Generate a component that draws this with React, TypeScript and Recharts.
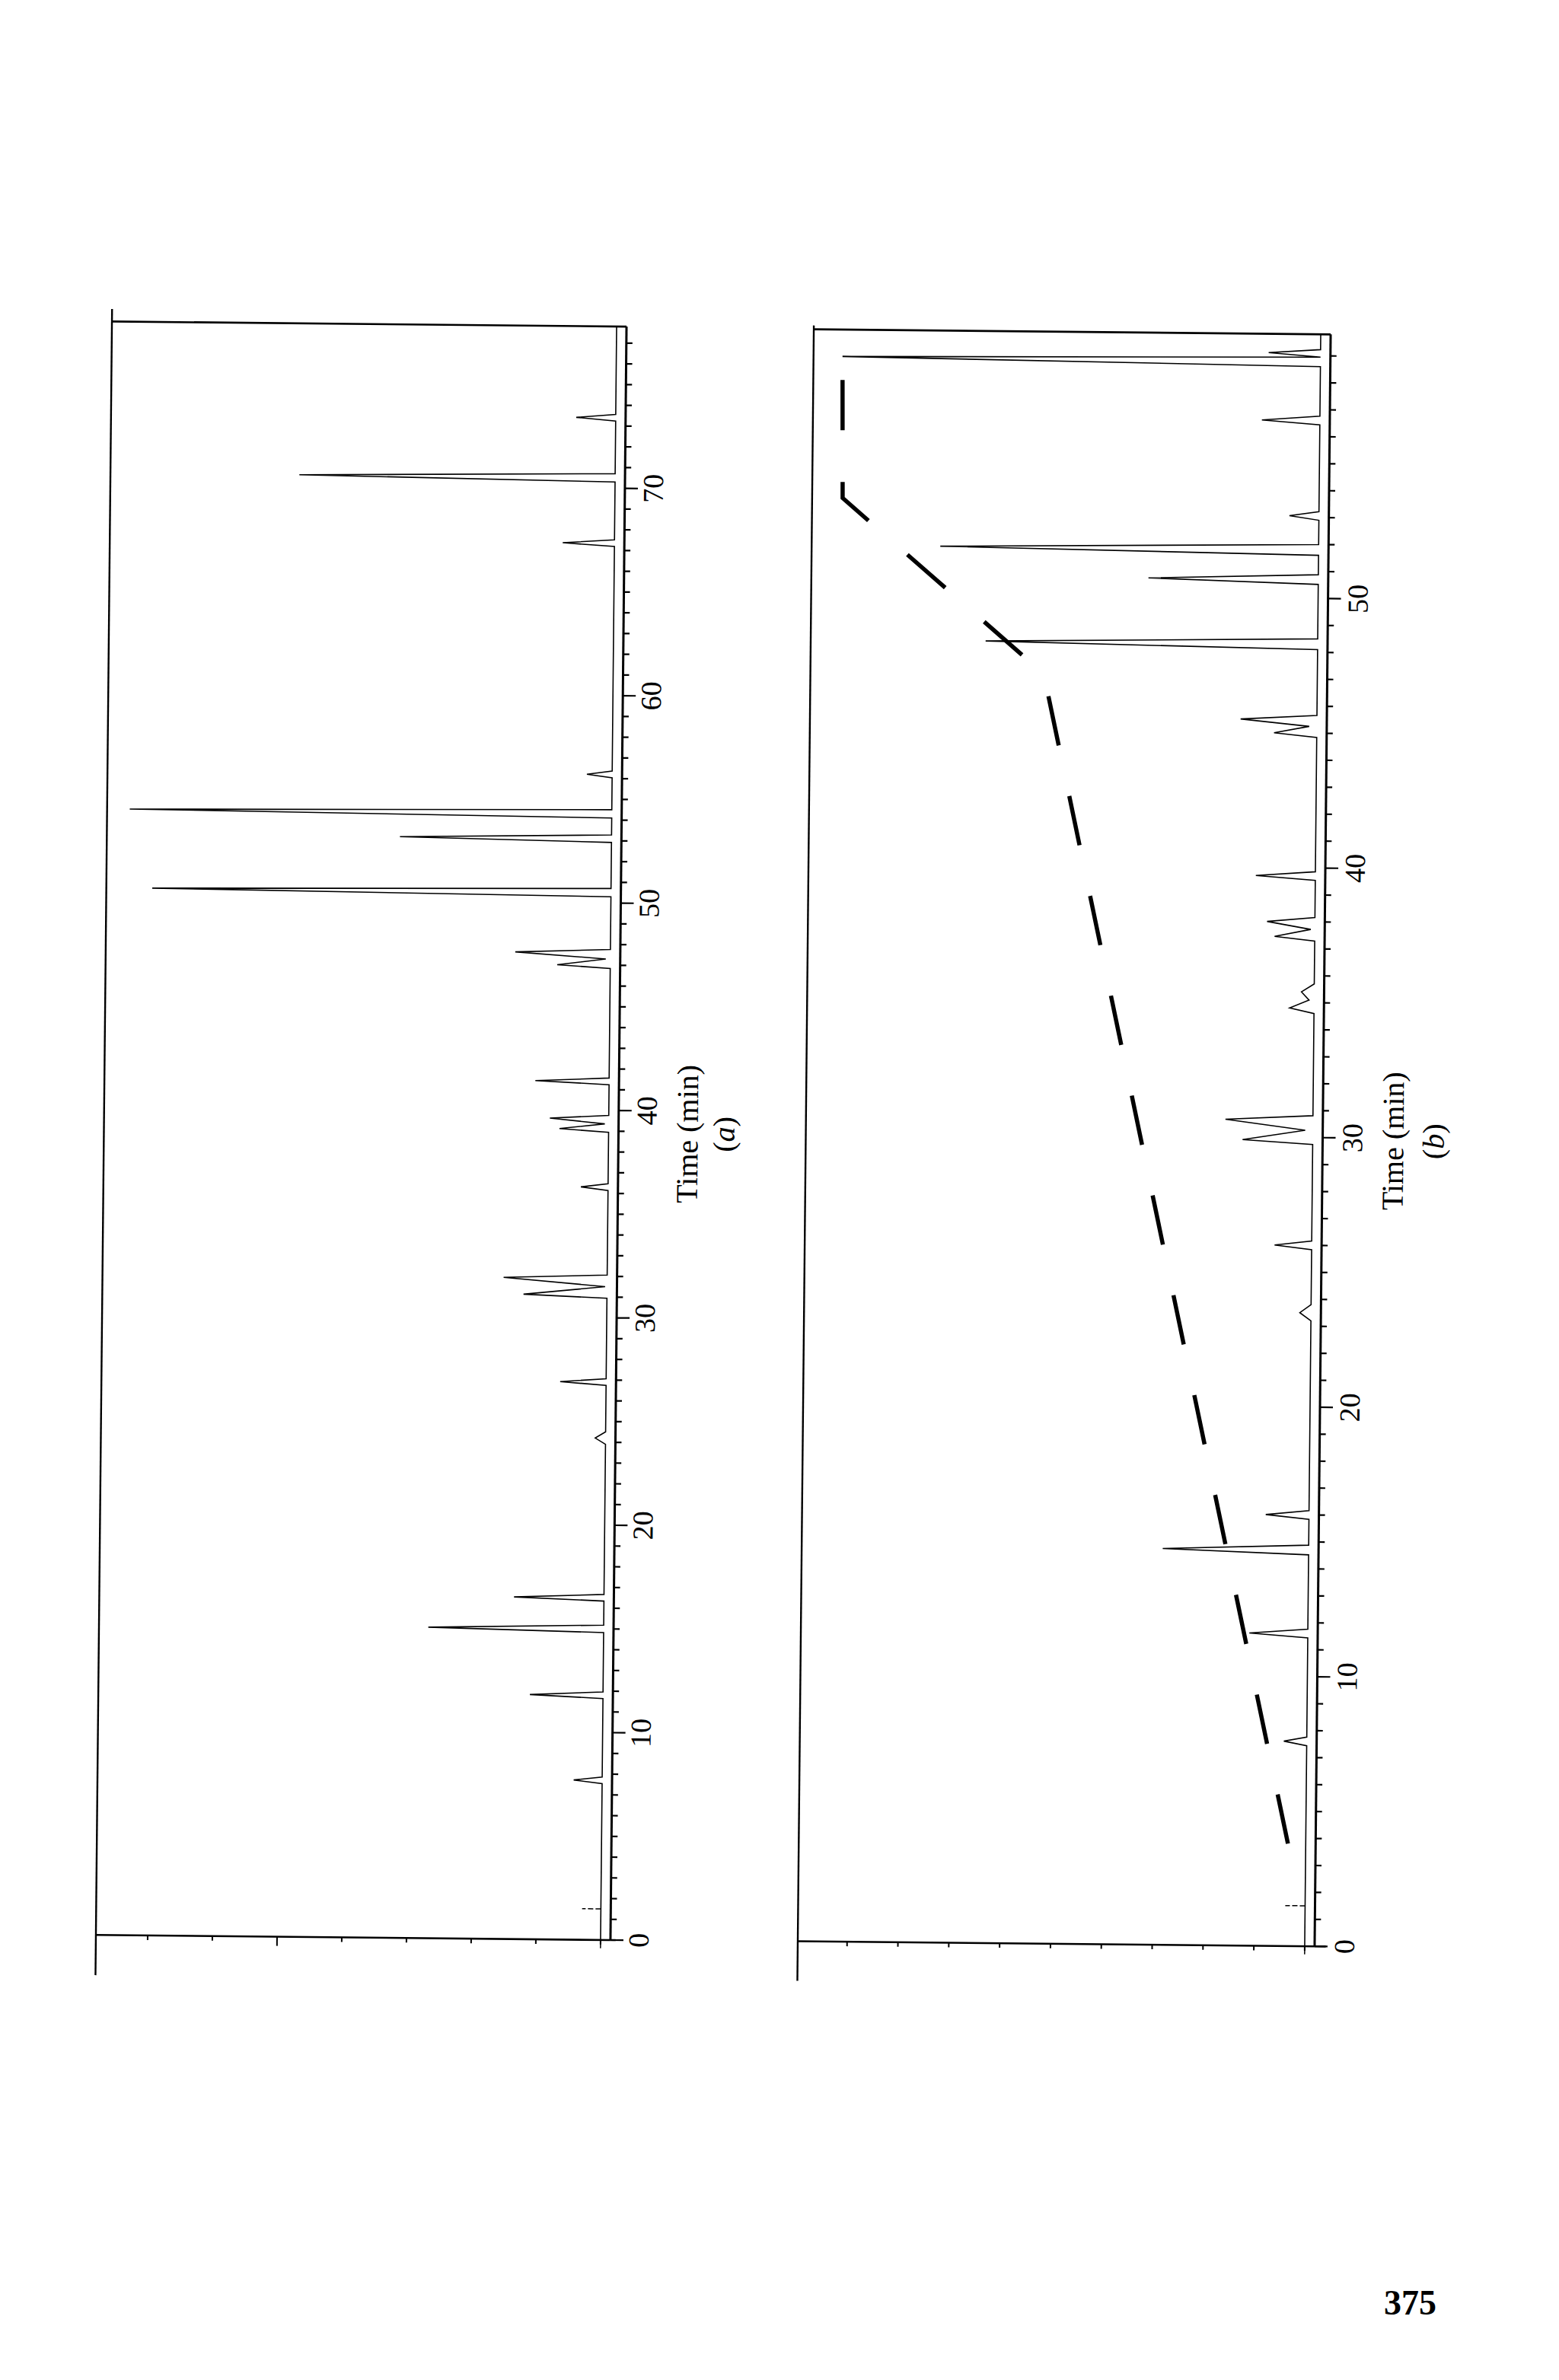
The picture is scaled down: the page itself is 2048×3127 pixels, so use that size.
import React from 'react';
import { LineChart, Line, XAxis, YAxis, ReferenceLine, Label } from 'recharts';

const FONT = '"Liberation Serif", "Times New Roman", serif';
const ROT = -89.43; // figure printed sideways, with a slight scan skew

// ---------------- panel (a) ----------------
const timeLabelsA = [0, 10, 20, 30, 40, 50, 60, 70];
const timeTicksA = Array.from({ length: 78 }, (_, i) => i);
const signalTicksA = [0, 10, 20, 30, 40, 50, 60, 70];
const signalLongA = [50];
const timeMaxA = 77.8;
const signalDomainA: [number, number] = [-1.53, 78];
const chromA: [number, number][] = [
  [0, 0],
  [7.54, 0], [7.7, 4.4], [7.86, 0],
  [11.64, 0], [11.8, 11.3], [11.96, 0],
  [14.82, 0], [15.0, 27.1], [15.18, 0],
  [16.34, 0], [16.5, 13.9], [16.66, 0],
  [23.9, 0], [24.2, 1.6], [24.5, 0],
  [26.74, 0], [26.9, 7.1], [27.06, 0],
  [30.94, 0], [31.1, 12.9], [31.5, 0.3], [31.9, 16.0], [32.06, 0],
  [36.14, 0], [36.3, 4.2], [36.46, 0],
  [38.94, 0], [39.1, 7.6], [39.35, 0.6], [39.6, 9.1], [39.76, 0],
  [41.24, 0], [41.4, 11.4], [41.56, 0],
  [46.84, 0], [47.0, 8.2], [47.3, 0.7], [47.6, 14.7], [47.76, 0],
  [50.3, 0], [50.5, 70.9], [50.7, 0],
  [52.92, 0], [53.1, 32.7], [53.28, 0],
  [54.1, 0], [54.3, 74.5], [54.5, 0],
  [56.04, 0], [56.2, 3.9], [56.36, 0],
  [67.19, 0], [67.35, 8.0], [67.51, 0],
  [70.3, 0], [70.5, 48.8], [70.7, 0],
  [73.24, 0], [73.4, 6.1], [73.56, 0],
  [77.8, 0],
];

// ---------------- panel (b) ----------------
const timeLabelsB = [0, 10, 20, 30, 40, 50];
const timeTicksB = Array.from({ length: 60 }, (_, i) => i);
const signalTicksB = [0, 10, 20, 30, 40, 50, 60, 70, 80, 90];
const signalLongB: number[] = [];
const timeMaxB = 59.8;
const signalDomainB: [number, number] = [-1.95, 99.7];
const chromB: [number, number][] = [
  [0, 0],
  [7.44, 0], [7.6, 4.5], [7.76, 0],
  [11.44, 0], [11.6, 11.5], [11.76, 0],
  [14.52, 0], [14.7, 28.7], [14.88, 0],
  [15.84, 0], [16.0, 8.5], [16.16, 0],
  [23.2, 0], [23.5, 2.2], [23.8, 0],
  [25.84, 0], [26.0, 7.3], [26.16, 0],
  [29.74, 0], [29.9, 13.8], [30.27, 1.5], [30.65, 17.2], [30.81, 0],
  [34.6, 0], [34.8, 4.8], [35.1, 1.0], [35.4, 2.5], [35.7, 0],
  [37.29, 0], [37.45, 7.9], [37.72, 0.8], [38.0, 9.4], [38.16, 0],
  [39.54, 0], [39.7, 11.7], [39.86, 0],
  [44.84, 0], [45.0, 8.4], [45.25, 1.5], [45.5, 15.0], [45.66, 0],
  [48.1, 0], [48.3, 65.3], [48.5, 0],
  [50.52, 0], [50.7, 33.4], [50.88, 0],
  [51.6, 0], [51.8, 74.4], [52.0, 0],
  [52.9, 0], [53.06, 5.8], [53.22, 0],
  [56.44, 0], [56.6, 11.4], [56.76, 0],
  [58.6, 0], [58.8, 94.0], [58.95, 0], [59.1, 10.2], [59.23, 0],
  [59.8, 0],
];
// gradient programme (dashed)
const gradientB: [number, number][] = [
  [3.8, 3.5], [47.1, 53.8], [53.55, 93.7], [58.85, 94.0],
];

const toPts = (arr: [number, number][]) => arr.map(([t, v]) => ({ t, v }));

type Cfg = {
  X0: number; Y0: number; W: number; H: number;
  plotLeft: number; plotWidth: number; plotTop: number; plotBottom: number;
  tMax: number; sDomain: [number, number];
  tTicks: number[]; tLabels: number[]; sTicks: number[]; sLong: number[];
  chrom: [number, number][]; gradient?: [number, number][];
  letter: string; frameFrom: number; frameTo: number;
  marker: number; markerLen: number; tail: number; overhang: number;
  tickFs: number; tickDy: number; titleDy: number; letterDy: number;
};

const YW = 40;

function Panel({ c }: { c: Cfg }) {
  const TimeTick = (p: any) => {
    const { x, y, payload } = p;
    const v = payload.value;
    const major = v % 10 === 0;
    return (
      <g>
        <line x1={x} y1={y} x2={x} y2={y + (major ? 17 : 8)} stroke="#000" strokeWidth={2.2} />
        {c.tLabels.includes(v) && (
          <text x={x} y={y + c.tickDy} textAnchor="middle" fontSize={c.tickFs} fontFamily={FONT} fill="#000">
            {v}
          </text>
        )}
      </g>
    );
  };
  const SigTick = (p: any) => {
    const { x, y, payload } = p;
    const long = c.sLong.includes(payload.value);
    return <line x1={x} y1={y} x2={x - (long ? 12 : 6)} y2={y} stroke="#000" strokeWidth={2} />;
  };
  const Title = (p: any) => {
    const vb = p.viewBox || {};
    const cx = vb.x + vb.width / 2;
    const y0 = vb.y;
    return (
      <g>
        <text x={cx} y={y0 + c.titleDy} textAnchor="middle" fontSize={40} fontFamily={FONT} fill="#000">
          Time (min)
        </text>
        <text x={cx} y={y0 + c.letterDy} textAnchor="middle" fontSize={40} fontFamily={FONT} fill="#000">
          (<tspan fontStyle="italic">{c.letter}</tspan>)
        </text>
      </g>
    );
  };
  const sMax = c.sDomain[1];
  const sMin = c.sDomain[0];
  return (
    <div
      style={{
        position: 'absolute', left: c.X0, top: c.Y0, width: c.W, height: c.H,
        transformOrigin: '0 0', transform: `rotate(${ROT}deg)`,
      }}
    >
      <LineChart
        width={c.W}
        height={c.H}
        margin={{ top: c.plotTop, left: c.plotLeft - YW, right: c.W - c.plotLeft - c.plotWidth, bottom: 0 }}
      >
        <XAxis
          type="number" dataKey="t" domain={[0, c.tMax]} allowDataOverflow
          ticks={c.tTicks} interval={0} tickSize={0} tickMargin={0} tickLine={false}
          tick={TimeTick} height={c.H - c.plotBottom}
          axisLine={{ stroke: '#000', strokeWidth: 3 }}
          label={<Label content={Title} />}
        />
        <YAxis
          type="number" dataKey="v" domain={c.sDomain} allowDataOverflow
          ticks={c.sTicks} interval={0} tickSize={0} tickMargin={0} tickLine={false}
          tick={SigTick} width={YW}
          axisLine={{ stroke: '#000', strokeWidth: 2.6 }}
        />
        <ReferenceLine x={c.tMax} stroke="#000" strokeWidth={2.6} ifOverflow="visible" />
        <ReferenceLine
          segment={[{ x: c.frameFrom, y: sMax }, { x: c.frameTo, y: sMax }]}
          stroke="#000" strokeWidth={2.4} ifOverflow="visible"
        />
        <ReferenceLine
          segment={[{ x: 0, y: sMin }, { x: 0, y: sMin - c.overhang }]}
          stroke="#000" strokeWidth={2.6} ifOverflow="visible"
        />
        <ReferenceLine
          segment={[{ x: c.tail, y: 0 }, { x: 0, y: 0 }]}
          stroke="#000" strokeWidth={1.5} ifOverflow="visible"
        />
        <ReferenceLine
          segment={[{ x: c.marker, y: 0 }, { x: c.marker, y: c.markerLen }]}
          stroke="#000" strokeWidth={1.5} strokeDasharray="7 3" ifOverflow="visible"
        />
        <Line
          data={toPts(c.chrom)} dataKey="v" type="linear" stroke="#000" strokeWidth={1.6}
          dot={false} activeDot={false} isAnimationActive={false}
        />
        {c.gradient && (
          <Line
            data={toPts(c.gradient)} dataKey="v" type="linear" stroke="#000" strokeWidth={5.5}
            strokeDasharray="66 68" strokeLinecap="butt" dot={false} activeDot={false}
            isAnimationActive={false}
          />
        )}
      </LineChart>
    </div>
  );
}

const cfgA: Cfg = {
  X0: 100, Y0: 2640, W: 2260, H: 900,
  plotLeft: 98, plotWidth: 2120, plotTop: 25, plotBottom: 701,
  tMax: timeMaxA, sDomain: signalDomainA,
  tTicks: timeTicksA, tLabels: timeLabelsA, sTicks: signalTicksA, sLong: signalLongA,
  chrom: chromA, letter: 'a', frameFrom: -1.94, frameTo: 78.4,
  marker: 1.5, markerLen: 2.9, tail: -0.4, overhang: 0.8,
  tickFs: 38, tickDy: 50, titleDy: 104, letterDy: 152,
};

const cfgB: Cfg = {
  X0: 1000, Y0: 2650, W: 2260, H: 950,
  plotLeft: 100, plotWidth: 2118, plotTop: 47, plotBottom: 726,
  tMax: timeMaxB, sDomain: signalDomainB,
  tTicks: timeTicksB, tLabels: timeLabelsB, sTicks: signalTicksB, sLong: signalLongB,
  chrom: chromB, gradient: gradientB, letter: 'b', frameFrom: -1.47, frameTo: 59.94,
  marker: 1.5, markerLen: 3.9, tail: -0.3, overhang: 2.2,
  tickFs: 38, tickDy: 52, titleDy: 106, letterDy: 159,
};

export default function App() {
  return (
    <div style={{ position: 'absolute', left: 0, top: 0, width: 2048, height: 3127, background: '#fff', overflow: 'hidden' }}>
      <Panel c={cfgA} />
      <Panel c={cfgB} />
      <div
        style={{
          position: 'absolute', left: 1818, top: 3003, fontFamily: FONT, fontWeight: 'bold',
          fontSize: 46, lineHeight: '46px', color: '#000',
        }}
      >
        375
      </div>
    </div>
  );
}
